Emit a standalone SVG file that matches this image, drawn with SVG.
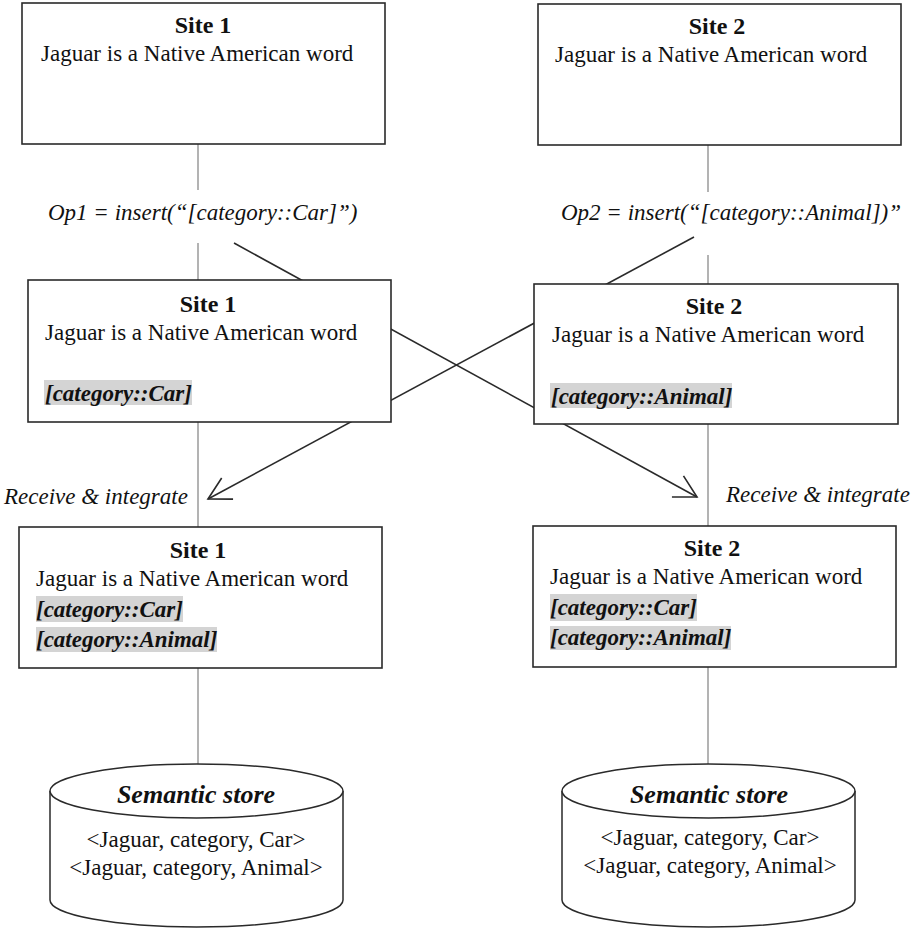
<svg xmlns="http://www.w3.org/2000/svg" width="915" height="929" viewBox="0 0 915 929" font-family="'Liberation Serif', 'DejaVu Serif', 'Times New Roman', Times, serif">
  <style>
    text { font-family: "Liberation Serif", "DejaVu Serif", "Times New Roman", Times, serif; font-size: 23px; fill: #111; }
    .title { font-weight: bold; text-anchor: middle; font-size: 24px; }
    .tag { font-weight: bold; font-style: italic; }
    .op { font-style: italic; }
    .store { font-weight: bold; font-style: italic; text-anchor: middle; font-size: 26px; }
    .triple { text-anchor: middle; }
    .box { fill: #fff; stroke: #2a2a2a; stroke-width: 1.6; }
    .hl { fill: #d4d4d4; }
    .vline { stroke: #808080; stroke-width: 1.2; fill: none; }
    .diag { stroke: #2a2a2a; stroke-width: 1.6; fill: none; }
    .cyl { fill: #fff; stroke: #2a2a2a; stroke-width: 1.5; }
  </style>
  <defs>
    <marker id="openArrow" markerUnits="userSpaceOnUse" markerWidth="30" markerHeight="30" viewBox="-26 -15 30 30" refX="0" refY="0" orient="auto">
      <path d="M-22,-12 L0,0 L-22,12" fill="none" stroke="#2a2a2a" stroke-width="1.6"/>
    </marker>
  </defs>

  <!-- connectors -->
  <g id="connectors">
    <!-- site 1 timeline -->
    <line class="vline" x1="198" y1="144" x2="198" y2="190"/>
    <line class="vline" x1="198" y1="243" x2="198" y2="280"/>
    <line class="vline" x1="198" y1="422" x2="198" y2="527"/>
    <line class="vline" x1="198" y1="668" x2="198" y2="765"/>
    <!-- site 2 timeline -->
    <line class="vline" x1="708" y1="145" x2="708" y2="192"/>
    <line class="vline" x1="708" y1="255" x2="708" y2="284"/>
    <line class="vline" x1="708" y1="424" x2="708" y2="526"/>
    <line class="vline" x1="708" y1="667" x2="708" y2="765"/>
    <!-- propagation of operations between sites -->
    <line class="diag" x1="234" y1="243" x2="697" y2="497" marker-end="url(#openArrow)"/>
    <line class="diag" x1="694" y1="237" x2="208" y2="499" marker-end="url(#openArrow)"/>
    <!-- operation labels -->
    <text class="op" x="48" y="220">Op1 = insert(“[category::Car]”)</text>
    <text class="op" x="561" y="220">Op2 = insert(“[category::Animal])”</text>
    <text class="op" x="4" y="504">Receive &amp; integrate</text>
    <text class="op" x="726" y="502">Receive &amp; integrate</text>
  </g>

  <!-- initial states -->
  <g id="site1-initial">
    <rect class="box" x="22" y="3" width="363" height="141"/>
    <text class="title" x="203" y="33">Site 1</text>
    <text x="41" y="61">Jaguar is a Native American word</text>
  </g>
  <g id="site2-initial">
    <rect class="box" x="538" y="4" width="363" height="141"/>
    <text class="title" x="717" y="34">Site 2</text>
    <text x="555" y="62">Jaguar is a Native American word</text>
  </g>

  <!-- after local edit -->
  <g id="site1-edited">
    <rect class="box" x="28" y="280" width="363" height="142"/>
    <text class="title" x="208" y="312">Site 1</text>
    <text x="45" y="340">Jaguar is a Native American word</text>
    <rect class="hl" x="44" y="380" width="148" height="25"/>
    <text class="tag" x="45" y="401">[category::Car]</text>
  </g>
  <g id="site2-edited">
    <rect class="box" x="534" y="284" width="364" height="140"/>
    <text class="title" x="714" y="314">Site 2</text>
    <text x="552" y="342">Jaguar is a Native American word</text>
    <rect class="hl" x="550" y="383" width="182" height="25"/>
    <text class="tag" x="551" y="404">[category::Animal]</text>
  </g>

  <!-- after integration -->
  <g id="site1-merged">
    <rect class="box" x="19" y="527" width="363" height="141"/>
    <text class="title" x="198" y="558">Site 1</text>
    <text x="36" y="586">Jaguar is a Native American word</text>
    <rect class="hl" x="36" y="596" width="147" height="26"/>
    <text class="tag" x="36" y="617">[category::Car]</text>
    <rect class="hl" x="36" y="627" width="181" height="25"/>
    <text class="tag" x="36" y="647">[category::Animal]</text>
  </g>
  <g id="site2-merged">
    <rect class="box" x="533" y="526" width="363" height="141"/>
    <text class="title" x="712" y="556">Site 2</text>
    <text x="550" y="584">Jaguar is a Native American word</text>
    <rect class="hl" x="550" y="594" width="147" height="27"/>
    <text class="tag" x="550" y="615">[category::Car]</text>
    <rect class="hl" x="550" y="626" width="181" height="24"/>
    <text class="tag" x="550" y="645">[category::Animal]</text>
  </g>

  <!-- semantic stores -->
  <g id="store1">
    <path class="cyl" d="M50,791 A146.5,27 0 0 1 343,791 L343,900 A146.5,27 0 0 1 50,900 Z"/>
    <path class="cyl" fill="none" d="M50,791 A146.5,27 0 0 0 343,791"/>
    <text class="store" x="196" y="803">Semantic store</text>
    <text class="triple" x="196" y="847">&lt;Jaguar, category, Car&gt;</text>
    <text class="triple" x="196" y="875">&lt;Jaguar, category, Animal&gt;</text>
  </g>
  <g id="store2">
    <path class="cyl" d="M562,791 A146.5,27 0 0 1 855,791 L855,900 A146.5,27 0 0 1 562,900 Z"/>
    <path class="cyl" fill="none" d="M562,791 A146.5,27 0 0 0 855,791"/>
    <text class="store" x="709" y="803">Semantic store</text>
    <text class="triple" x="710" y="845">&lt;Jaguar, category, Car&gt;</text>
    <text class="triple" x="710" y="873">&lt;Jaguar, category, Animal&gt;</text>
  </g>
</svg>
